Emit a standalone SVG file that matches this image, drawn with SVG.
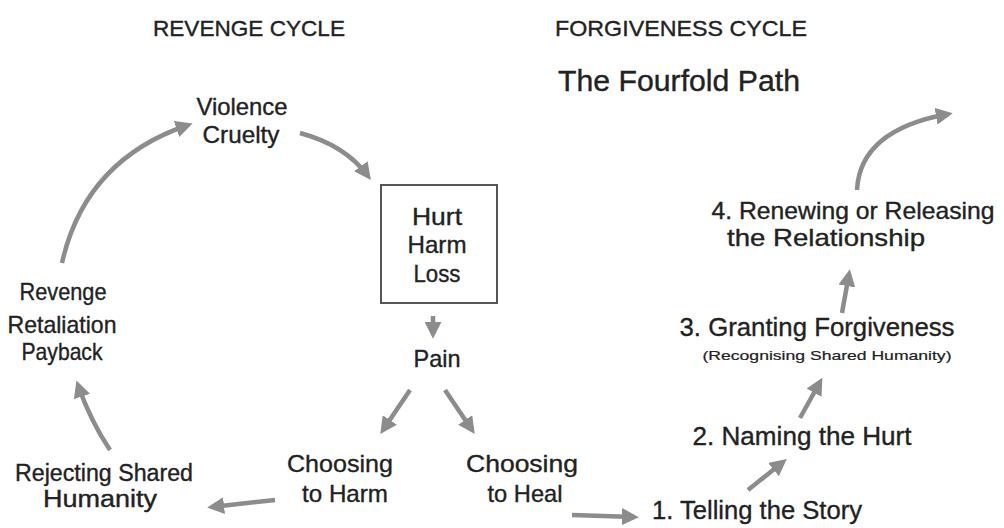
<svg xmlns="http://www.w3.org/2000/svg" width="1004" height="528" viewBox="0 0 1004 528">
<style>
text{font-family:"Liberation Sans",Arial,sans-serif;fill:#222;stroke:#222;stroke-width:0.35;text-anchor:middle}
.t{font-size:22px}
.h{font-size:29px}
.l{font-size:24px}
.r{font-size:23px}
.s{font-size:26px}
.sm{font-size:13px;stroke-width:0.2}
.a{fill:none;stroke:#8c8c8c;stroke-width:4.5;stroke-linecap:butt}
.box{fill:none;stroke:#555;stroke-width:2}
</style>
<defs>
<marker id="ah" markerUnits="userSpaceOnUse" markerWidth="17" markerHeight="17" viewBox="0 0 14 14" refX="10" refY="7" orient="auto">
<path d="M0,0 L14,7 L0,14 z" fill="#8c8c8c"/>
</marker>
</defs>
<rect width="1004" height="528" fill="#fff"/>
<g id="titles">
<text class="t" x="249" y="36" textLength="192" lengthAdjust="spacingAndGlyphs">REVENGE CYCLE</text>
<text class="t" x="681" y="36" textLength="252" lengthAdjust="spacingAndGlyphs">FORGIVENESS CYCLE</text>
<text class="h" x="679" y="91" textLength="242" lengthAdjust="spacingAndGlyphs">The Fourfold Path</text>
</g>
<g id="violence">
<text class="l" x="242" y="115" textLength="91" lengthAdjust="spacingAndGlyphs">Violence</text>
<text class="l" x="241" y="143" textLength="77" lengthAdjust="spacingAndGlyphs">Cruelty</text>
</g>
<g id="hurt">
<rect class="box" x="381" y="185" width="116" height="118"/>
<text class="l" x="437" y="225" textLength="50" lengthAdjust="spacingAndGlyphs">Hurt</text>
<text class="l" x="437" y="253" textLength="59" lengthAdjust="spacingAndGlyphs">Harm</text>
<text class="l" x="437" y="282" textLength="47" lengthAdjust="spacingAndGlyphs">Loss</text>
</g>
<g id="pain">
<text class="l" x="437" y="367" textLength="47" lengthAdjust="spacingAndGlyphs">Pain</text>
</g>
<g id="revenge">
<text class="l" x="63" y="300" textLength="87" lengthAdjust="spacingAndGlyphs">Revenge</text>
<text class="l" x="62" y="333" textLength="109" lengthAdjust="spacingAndGlyphs">Retaliation</text>
<text class="l" x="62" y="360" textLength="81" lengthAdjust="spacingAndGlyphs">Payback</text>
</g>
<g id="rejecting">
<text class="r" x="104" y="481" textLength="178" lengthAdjust="spacingAndGlyphs">Rejecting Shared</text>
<text class="r" x="100" y="507" textLength="114" lengthAdjust="spacingAndGlyphs">Humanity</text>
</g>
<g id="harm">
<text class="l" x="340" y="472" textLength="106" lengthAdjust="spacingAndGlyphs">Choosing</text>
<text class="l" x="345" y="502" textLength="86" lengthAdjust="spacingAndGlyphs">to Harm</text>
</g>
<g id="heal">
<text class="l" x="522" y="472" textLength="112" lengthAdjust="spacingAndGlyphs">Choosing</text>
<text class="l" x="525" y="502" textLength="75" lengthAdjust="spacingAndGlyphs">to Heal</text>
</g>
<g id="step1">
<text class="s" x="757" y="519" textLength="210" lengthAdjust="spacingAndGlyphs">1. Telling the Story</text>
</g>
<g id="step2">
<text class="s" x="802" y="445" textLength="219" lengthAdjust="spacingAndGlyphs">2. Naming the Hurt</text>
</g>
<g id="step3">
<text class="s" x="817" y="336" textLength="275" lengthAdjust="spacingAndGlyphs">3. Granting Forgiveness</text>
<text class="sm" x="827" y="360" textLength="249" lengthAdjust="spacingAndGlyphs">(Recognising Shared Humanity)</text>
</g>
<g id="step4">
<text class="l" x="853" y="219" textLength="283" lengthAdjust="spacingAndGlyphs">4. Renewing or Releasing</text>
<text class="l" x="826" y="246" textLength="198" lengthAdjust="spacingAndGlyphs">the Relationship</text>
</g>
<g id="connectors">
<path class="a" d="M62,263 Q85,160 188,125" marker-end="url(#ah)"/>
<path class="a" d="M300,133 Q345,145 368,176" marker-end="url(#ah)"/>
<path class="a" d="M433,316 L433,334" marker-end="url(#ah)"/>
<path class="a" d="M410,390 L383,430" marker-end="url(#ah)"/>
<path class="a" d="M445,390 L472,430" marker-end="url(#ah)"/>
<path class="a" d="M275,500 L212,507" marker-end="url(#ah)"/>
<path class="a" d="M110,450 Q90,420 78,385" marker-end="url(#ah)"/>
<path class="a" d="M572,515 L634,517" marker-end="url(#ah)"/>
<path class="a" d="M748,490 L783,462" marker-end="url(#ah)"/>
<path class="a" d="M800,418 L820,382" marker-end="url(#ah)"/>
<path class="a" d="M842,313 L849,274" marker-end="url(#ah)"/>
<path class="a" d="M857,190 Q860,130 948,114" marker-end="url(#ah)"/>
</g>
</svg>
